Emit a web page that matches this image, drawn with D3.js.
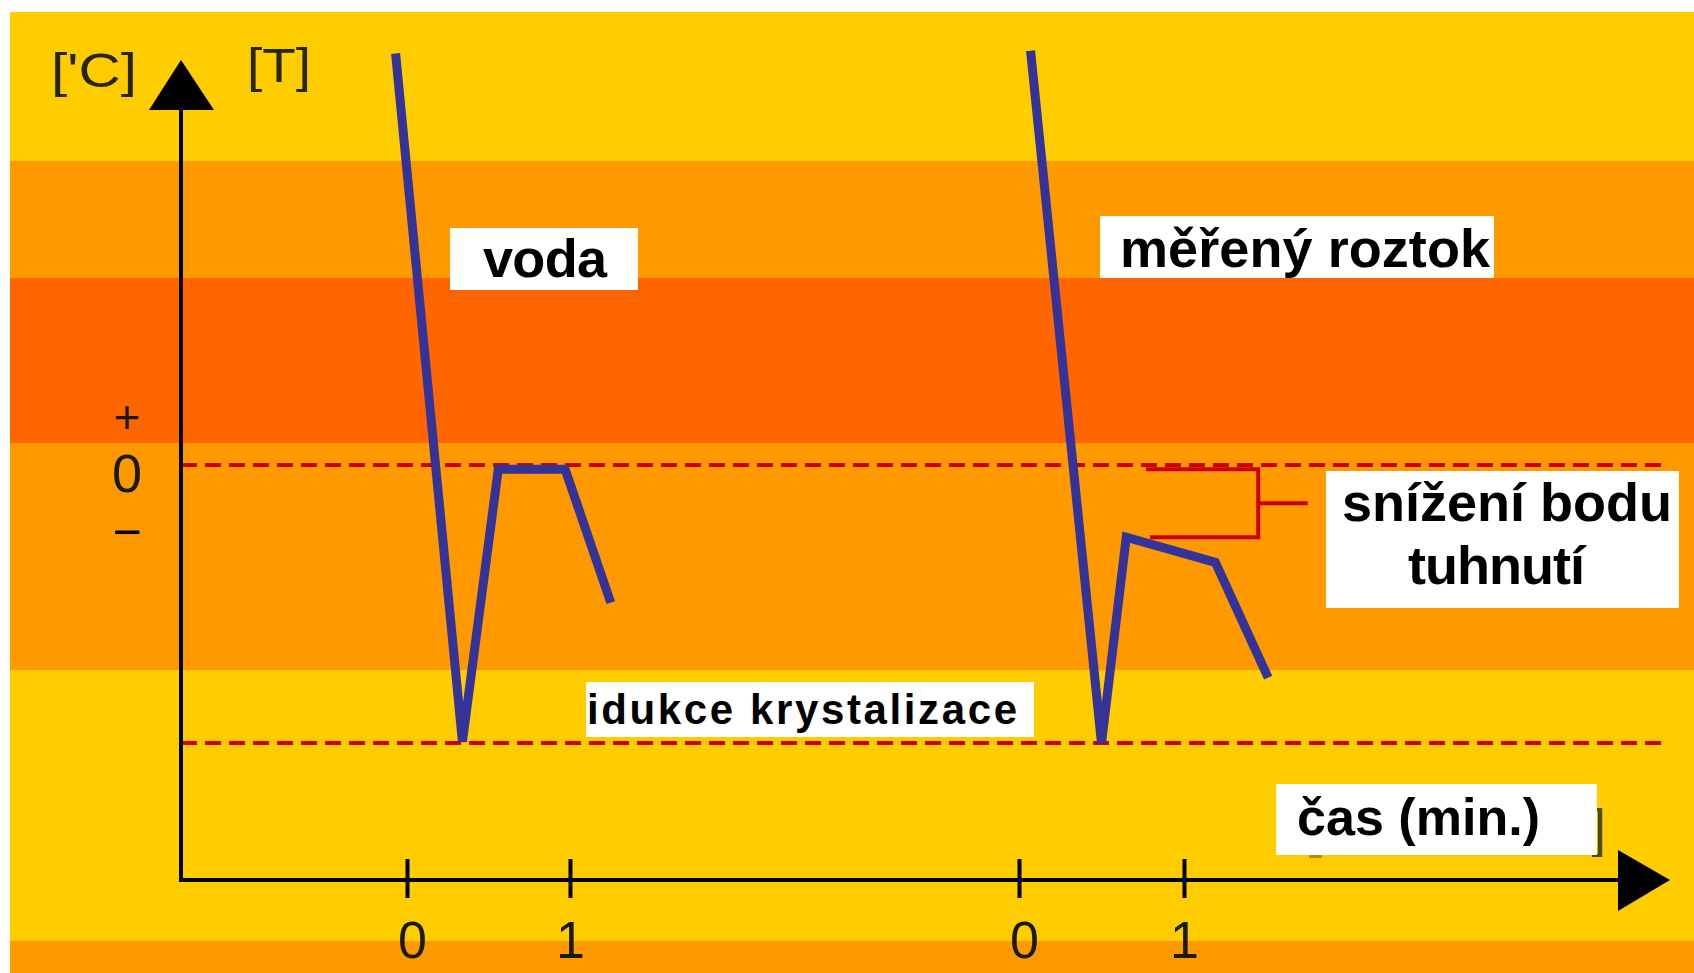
<!DOCTYPE html>
<meta charset="utf-8">
<script src="https://d3js.org/d3.v7.min.js"></script>
<style>
  body { margin: 0; background: #fff; overflow: hidden; }
  text { font-family: "Liberation Sans", Arial, sans-serif; }
</style>
<div id="chart"></div>
<script>
// ---- data ----
// time in minutes after the start of each run, temperature in arbitrary units (0 = freezing of water)
var waterTime     = [-0.07, 0.34, 0.56, 0.97, 1.25]
var waterTemp     = [2.96, -1.99, -0.03, -0.03, -0.99]
var solutionTime  = [0.07, 0.50, 0.65, 1.19, 1.51]
var solutionTemp  = [2.98, -2.00, -0.52, -0.70, -1.53]
var tickValues    = [0, 1]
var refLines      = [0, -2]            // 0 level and the induction of crystallisation
var freezePoints  = [-0.03, -0.52]     // water plateau, solution plateau (bracket)
var bandColors    = ["#FFCC00", "#FF9900", "#FF6600", "#FF9900", "#FFCC00", "#FF9900"]

// ---- layout ----
var W = 1694, H = 973
var bandEdges = [12, 161, 278, 443, 670, 941, 973]
var axisX = 181, axisY = 880

var svg = d3.select("#chart").append("svg")
    .attr("width", W).attr("height", H)

// scales: one time scale per run, one shared temperature scale
var xWater = d3.scaleLinear().domain([0, 1]).range([407, 570])
var xSol   = d3.scaleLinear().domain([0, 1]).range([1019, 1184])
var y      = d3.scaleLinear().domain([-2, 0]).range([743, 465])

// background bands
svg.selectAll("rect.band")
    .data(bandColors)
    .enter().append("rect")
    .attr("class", "band")
    .attr("x", 10)
    .attr("y", function(d, i) { return bandEdges[i] })
    .attr("width", W - 10)
    .attr("height", function(d, i) { return bandEdges[i + 1] - bandEdges[i] })
    .attr("fill", function(d) { return d })

// dashed reference lines
svg.selectAll("line.ref")
    .data(refLines)
    .enter().append("line")
    .attr("x1", axisX).attr("x2", 1661)
    .attr("y1", function(d) { return y(d) })
    .attr("y2", function(d) { return y(d) })
    .attr("stroke", "#CC0000")
    .attr("stroke-width", 4)
    .attr("stroke-dasharray", "16,8")

// axes
svg.append("line")
    .attr("x1", axisX).attr("x2", axisX).attr("y1", 105).attr("y2", axisY + 2)
    .attr("stroke", "#000").attr("stroke-width", 4)
svg.append("path")
    .attr("d", "M" + axisX + ",60 L" + (axisX + 33) + ",110 L" + (axisX - 32) + ",110 Z")
    .attr("fill", "#000")
svg.append("line")
    .attr("x1", axisX - 2).attr("x2", 1625).attr("y1", axisY).attr("y2", axisY)
    .attr("stroke", "#000").attr("stroke-width", 4)
svg.append("path")
    .attr("d", "M1670," + axisY + " L1618," + (axisY - 30) + " L1618," + (axisY + 31) + " Z")
    .attr("fill", "#000")

// ticks + labels for both runs
;[xWater, xSol].forEach(function(sc) {
    var g = svg.append("g")
        .attr("transform", "translate(0," + axisY + ")")
        .call(d3.axisBottom(sc).tickValues(tickValues).tickFormat(d3.format("d")))
    g.select(".domain").remove()
    g.selectAll(".tick line")
        .attr("y1", -21).attr("y2", 18)
        .attr("stroke", "#000").attr("stroke-width", 4)
    g.selectAll(".tick text")
        .attr("y", 78).attr("dy", null)
        .attr("dx", function(d) { return d === 0 ? 5 : 0 })
        .attr("fill", "#1a1a00")
        .style("font-size", "52px")
        .attr("font-family", null)
})

// y axis marks
svg.append("text").attr("x", 127).attr("y", y(0) - 48).attr("dy", "0.35em")
    .attr("text-anchor", "middle").style("font-size", "46px").attr("fill", "#1a1a00").text("+")
svg.append("text").attr("x", 127).attr("y", y(0) + 27)
    .attr("text-anchor", "middle").style("font-size", "54px").attr("fill", "#1a1a00").text("0")
svg.append("text").attr("x", 127).attr("y", y(0) + 66).attr("dy", "0.35em")
    .attr("text-anchor", "middle").style("font-size", "50px").attr("fill", "#000").text("\u2212")

// unit labels at the top
svg.append("text").attr("x", 51).attr("y", 87).style("font-size", "49px")
    .attr("textLength", 86).attr("lengthAdjust", "spacingAndGlyphs")
    .attr("fill", "#262600").text("['C]")
svg.append("text").attr("x", 247).attr("y", 82).style("font-size", "49px")
    .attr("textLength", 64).attr("lengthAdjust", "spacingAndGlyphs")
    .attr("fill", "#262600").text("[T]")

// curves
var line = function(sc) {
    return d3.line().x(function(d) { return sc(d[0]) }).y(function(d) { return y(d[1]) })
}
svg.append("path")
    .datum(d3.zip(waterTime, waterTemp))
    .attr("d", line(xWater))
    .attr("fill", "none").attr("stroke", "#333399").attr("stroke-width", 9)
    .attr("stroke-linejoin", "miter")
svg.append("path")
    .datum(d3.zip(solutionTime, solutionTemp))
    .attr("d", line(xSol))
    .attr("fill", "none").attr("stroke", "#333399").attr("stroke-width", 9)
    .attr("stroke-linejoin", "miter")

// bracket showing the freezing point depression
var bx0 = xSol(0.77), bx1 = xSol(1.45), bx2 = xSol(1.75)
var yTop = y(freezePoints[0]), yBot = y(freezePoints[1])
svg.append("path")
    .attr("d", "M" + bx0 + "," + yTop + " H" + bx1 + " V" + yBot + " H" + (bx0 + 4)
        + " M" + bx1 + "," + ((yTop + yBot) / 2) + " H" + bx2)
    .attr("fill", "none").attr("stroke", "#CC0000").attr("stroke-width", 4)

// remains of the axis title brackets peeking out round the "čas" box
svg.append("rect").attr("x", 1309).attr("y", 855).attr("width", 13).attr("height", 3)
    .attr("fill", "#b38f00")
svg.append("text").attr("x", 1606).attr("y", 846).attr("text-anchor", "end").style("font-size", "52px")
    .attr("fill", "#4d4d00").text("]")

// white label boxes
var labels = [
    { lines: ["voda"], box: [450, 228, 188, 62], x: 483, base: [277], size: 54, len: [124] },
    { lines: ["měřený roztok"], box: [1100, 216, 394, 62], x: 1120, base: [267], size: 54, len: [370] },
    { lines: ["snížení bodu", "tuhnutí"], box: [1326, 471, 353, 137], x: [1342, 1408], base: [521, 584], size: 54, len: [330, 177] },
    { lines: ["idukce krystalizace"], box: [586, 682, 448, 55], x: 587, base: [724], size: 42, len: [430] },
    { lines: ["čas (min.)"], box: [1276, 784, 321, 71], x: 1297, base: [835], size: 52, len: [243] }
]
labels.forEach(function(l) {
    svg.append("rect")
        .attr("x", l.box[0]).attr("y", l.box[1])
        .attr("width", l.box[2]).attr("height", l.box[3])
        .attr("fill", "#fff")
    l.lines.forEach(function(t, i) {
        svg.append("text")
            .attr("x", Array.isArray(l.x) ? l.x[i] : l.x)
            .attr("y", l.base[i])
            .attr("textLength", l.len[i]).attr("lengthAdjust", "spacing")
            .style("font-size", l.size + "px").style("font-weight", "bold")
            .attr("fill", "#000")
            .text(t)
    })
})
</script>
